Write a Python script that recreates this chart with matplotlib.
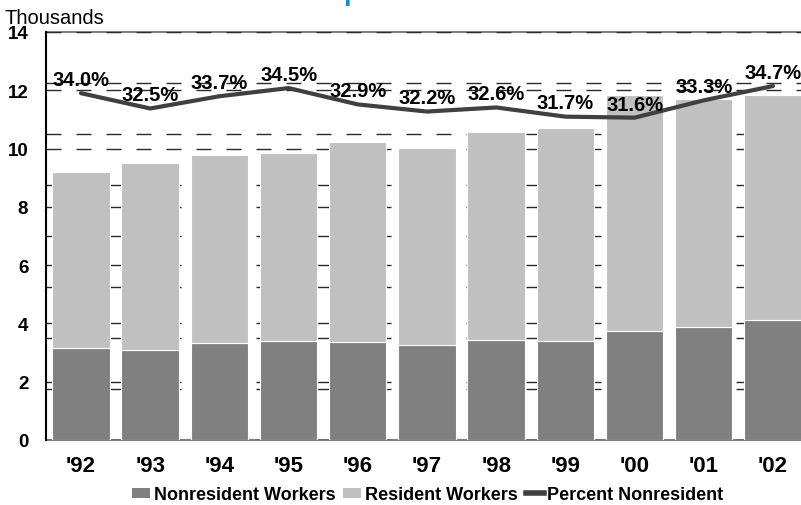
import matplotlib
matplotlib.use("Agg")
import matplotlib.pyplot as plt
from matplotlib.ticker import MultipleLocator
from matplotlib.patches import Patch
from matplotlib.lines import Line2D
import numpy as np

plt.rcParams['font.family'] = ['Liberation Sans', 'DejaVu Sans']

# Workers by year, in thousands
years = ["'92", "'93", "'94", "'95", "'96", "'97", "'98", "'99", "'00", "'01", "'02"]
nonresident = [3.15, 3.10, 3.32, 3.41, 3.36, 3.26, 3.44, 3.41, 3.75, 3.89, 4.13]
resident = [6.05, 6.41, 6.46, 6.44, 6.86, 6.75, 7.14, 7.30, 8.10, 7.81, 7.72]
pct_nonresident = [34.0, 32.5, 33.7, 34.5, 32.9, 32.2, 32.6, 31.7, 31.6, 33.3, 34.7]

dark = '#808080'
light = '#c0c0c0'
line_col = '#404040'

fig = plt.figure(figsize=(8.01, 5.06), dpi=100)
ax = fig.add_axes([0.0579, 0.1285, 0.9503, 0.8063])

x = np.arange(len(years))
ax.bar(x, nonresident, width=0.83, color=dark, edgecolor='white', linewidth=0.8, zorder=1)
ax.bar(x, resident, width=0.83, bottom=nonresident, color=light, edgecolor='white',
       linewidth=0.8, zorder=1)

ax.set_xlim(-0.5, len(years) - 0.5)
ax.set_ylim(0, 14)
ax.yaxis.set_major_locator(MultipleLocator(2))
# percent axis (0-40%, step 5%) gridlines expressed in thousands
ax.yaxis.set_minor_locator(MultipleLocator(14 / 8))
ax.set_axisbelow(True)
ax.grid(axis='y', which='both', color='#2a2a2a', linewidth=1.0, linestyle=(0, (10.8, 10.8)))
ax.grid(axis='x', visible=False)

ax.set_xticks(x)
ax.set_xticklabels(years, fontsize=16, fontweight='bold')
ax.tick_params(axis='x', length=0, pad=11)
ax.tick_params(axis='y', which='major', length=0, pad=13, labelsize=13.5)
ax.tick_params(axis='y', which='minor', length=0)
for lab in ax.get_yticklabels():
    lab.set_fontweight('bold')

ax.spines['left'].set_linewidth(1.5)
ax.spines['left'].set_color('black')
for side in ['bottom', 'top']:
    ax.spines[side].set_color('#808080')
    ax.spines[side].set_linewidth(1.5)
    ax.spines[side].set_zorder(0.4)
ax.spines['right'].set_visible(False)

# percent line on its own scale
ax2 = ax.twinx()
ax2.set_ylim(0, 40)
ax2.plot(x, pct_nonresident, color=line_col, linewidth=3, solid_capstyle='round', zorder=3)
for xi, p in zip(x, pct_nonresident):
    ax2.annotate(f"{p:.1f}%", (xi, p), xytext=(0, 3), textcoords='offset points',
                 ha='center', va='bottom', fontsize=14.5, fontweight='bold', zorder=4)
ax2.set_yticks([])
for s in ax2.spines.values():
    s.set_visible(False)

fig.text(0.006, 0.953, 'Thousands', fontsize=14.5, ha='left', va='baseline')

# title sits above the visible area
fig.text(0.428, 1.0, 'p', fontsize=20, fontweight='bold', color='#1a8ad4',
         ha='left', va='baseline')

handles = [Patch(facecolor=dark, edgecolor='none'),
           Patch(facecolor=light, edgecolor='none'),
           Line2D([0], [0], color=line_col, linewidth=4)]
labels = ['Nonresident Workers', 'Resident Workers', 'Percent Nonresident']
fig.legend(handles, labels, loc='center', bbox_to_anchor=(0.534, 0.02), ncol=3,
           frameon=False, prop={'weight': 'bold', 'size': 13}, handlelength=1.0,
           handleheight=0.55, handletextpad=0.2, columnspacing=0.45, borderpad=0)

fig.savefig('out.png', dpi=100)
